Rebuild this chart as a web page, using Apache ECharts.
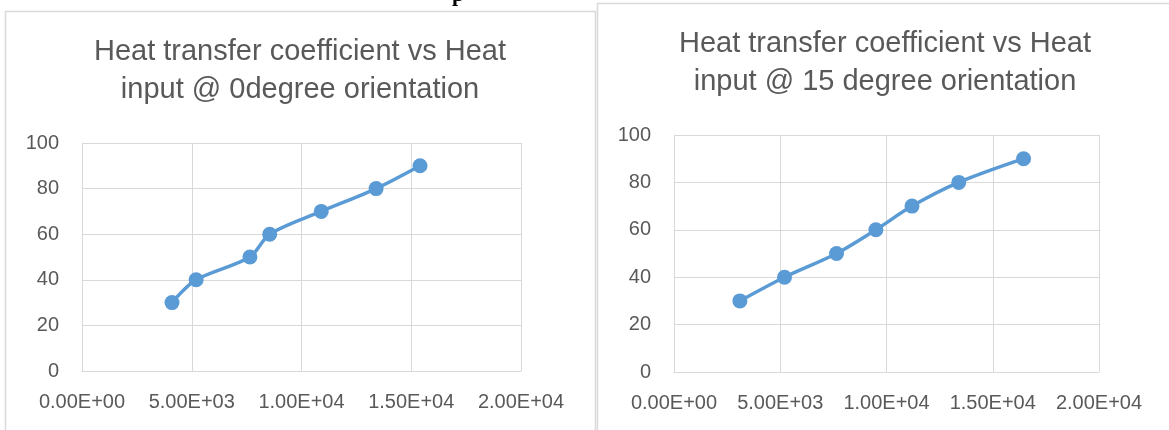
<!DOCTYPE html>
<html>
<head>
<meta charset="utf-8">
<script src="https://cdn.jsdelivr.net/npm/echarts@6/dist/echarts.min.js"></script>
<style>
html,body{margin:0;padding:0;background:#fff;}
#c{width:1169px;height:430px;}
</style>
</head>
<body>
<div id="c"></div>
<script>
// ---- DATA ----
const heatInput0 = [4100, 5200, 7650, 8550, 10900, 13400, 15400];
const htc0 = [30, 40, 50, 60, 70, 80, 90];
const heatInput15 = [3100, 5200, 7650, 9500, 11200, 13400, 16450];
const htc15 = [30, 40, 50, 60, 70, 80, 90];
const title0 = 'Heat transfer coefficient vs Heat\ninput @ 0degree orientation';
const title15 = 'Heat transfer coefficient vs Heat\ninput @ 15 degree orientation';
const xTicks = [0, 5000, 10000, 15000, 20000];
const yTicks = [0, 20, 40, 60, 80, 100];
const headingFragment = 'p';

function fmtExp(v) {
  if (v === 0) return '0.00E+00';
  const e = Math.floor(Math.log10(Math.abs(v)));
  const m = v / Math.pow(10, e);
  const es = (e < 0 ? '-' : '+') + String(Math.abs(e)).padStart(2, '0');
  return m.toFixed(2) + 'E' + es;
}
function pairs(xs, ys) { return xs.map((x, i) => [x, ys[i]]); }

const gridColor = '#d9d9d9';
const textColor = '#595959';
const font = '"Liberation Sans", Arial, sans-serif';

function xAxis(gi) {
  return {
    type: 'value', gridIndex: gi,
    min: xTicks[0], max: xTicks[xTicks.length - 1], interval: xTicks[1] - xTicks[0],
    axisLine: { show: true, lineStyle: { color: gridColor, width: 1 } },
    axisTick: { show: false },
    splitLine: { show: true, lineStyle: { color: gridColor, width: 1 } },
    axisLabel: { formatter: fmtExp, color: textColor, fontSize: 20, fontFamily: font, margin: 21 }
  };
}
function yAxis(gi) {
  return {
    type: 'value', gridIndex: gi,
    min: yTicks[0], max: yTicks[yTicks.length - 1], interval: yTicks[1] - yTicks[0],
    axisLine: { show: false },
    axisTick: { show: false },
    splitLine: { show: true, lineStyle: { color: gridColor, width: 1 } },
    axisLabel: { color: textColor, fontSize: 20, fontFamily: font, margin: 23 }
  };
}
function series(gi, xs, ys) {
  return {
    type: 'line', xAxisIndex: gi, yAxisIndex: gi,
    data: pairs(xs, ys), smooth: 0.3,
    symbol: 'circle', symbolSize: 15,
    lineStyle: { color: '#5b9bd5', width: 3.5 },
    itemStyle: { color: '#5b9bd5' },
    animation: false
  };
}

const chart = echarts.init(document.getElementById('c'));
chart.setOption({
  animation: false,
  backgroundColor: '#ffffff',
  title: [
    { text: title0, left: 295, top: 28, textAlign: 'center',
      textStyle: { color: textColor, fontSize: 29, fontWeight: 'normal', fontFamily: font, lineHeight: 38 } },
    { text: title15, left: 880, top: 20, textAlign: 'center',
      textStyle: { color: textColor, fontSize: 29, fontWeight: 'normal', fontFamily: font, lineHeight: 38 } }
  ],
  graphic: [
    { type: 'rect', shape: { x: 5.5, y: 11.5, width: 590, height: 440 }, style: { fill: 'none', stroke: '#d9d9d9', lineWidth: 1.5 }, z: -1 },
    { type: 'rect', shape: { x: 597.5, y: 3.5, width: 600, height: 450 }, style: { fill: 'none', stroke: '#d9d9d9', lineWidth: 1.5 }, z: -1 },
    { type: 'text', left: 452, top: -16, style: { text: headingFragment, fill: '#000', font: 'bold 22px "Liberation Serif", serif' } }
  ],
  grid: [
    { left: 82, top: 143, width: 439, height: 228 },
    { left: 674, top: 135, width: 425, height: 237 }
  ],
  xAxis: [xAxis(0), xAxis(1)],
  yAxis: [yAxis(0), yAxis(1)],
  series: [series(0, heatInput0, htc0), series(1, heatInput15, htc15)]
});
</script>
</body>
</html>
